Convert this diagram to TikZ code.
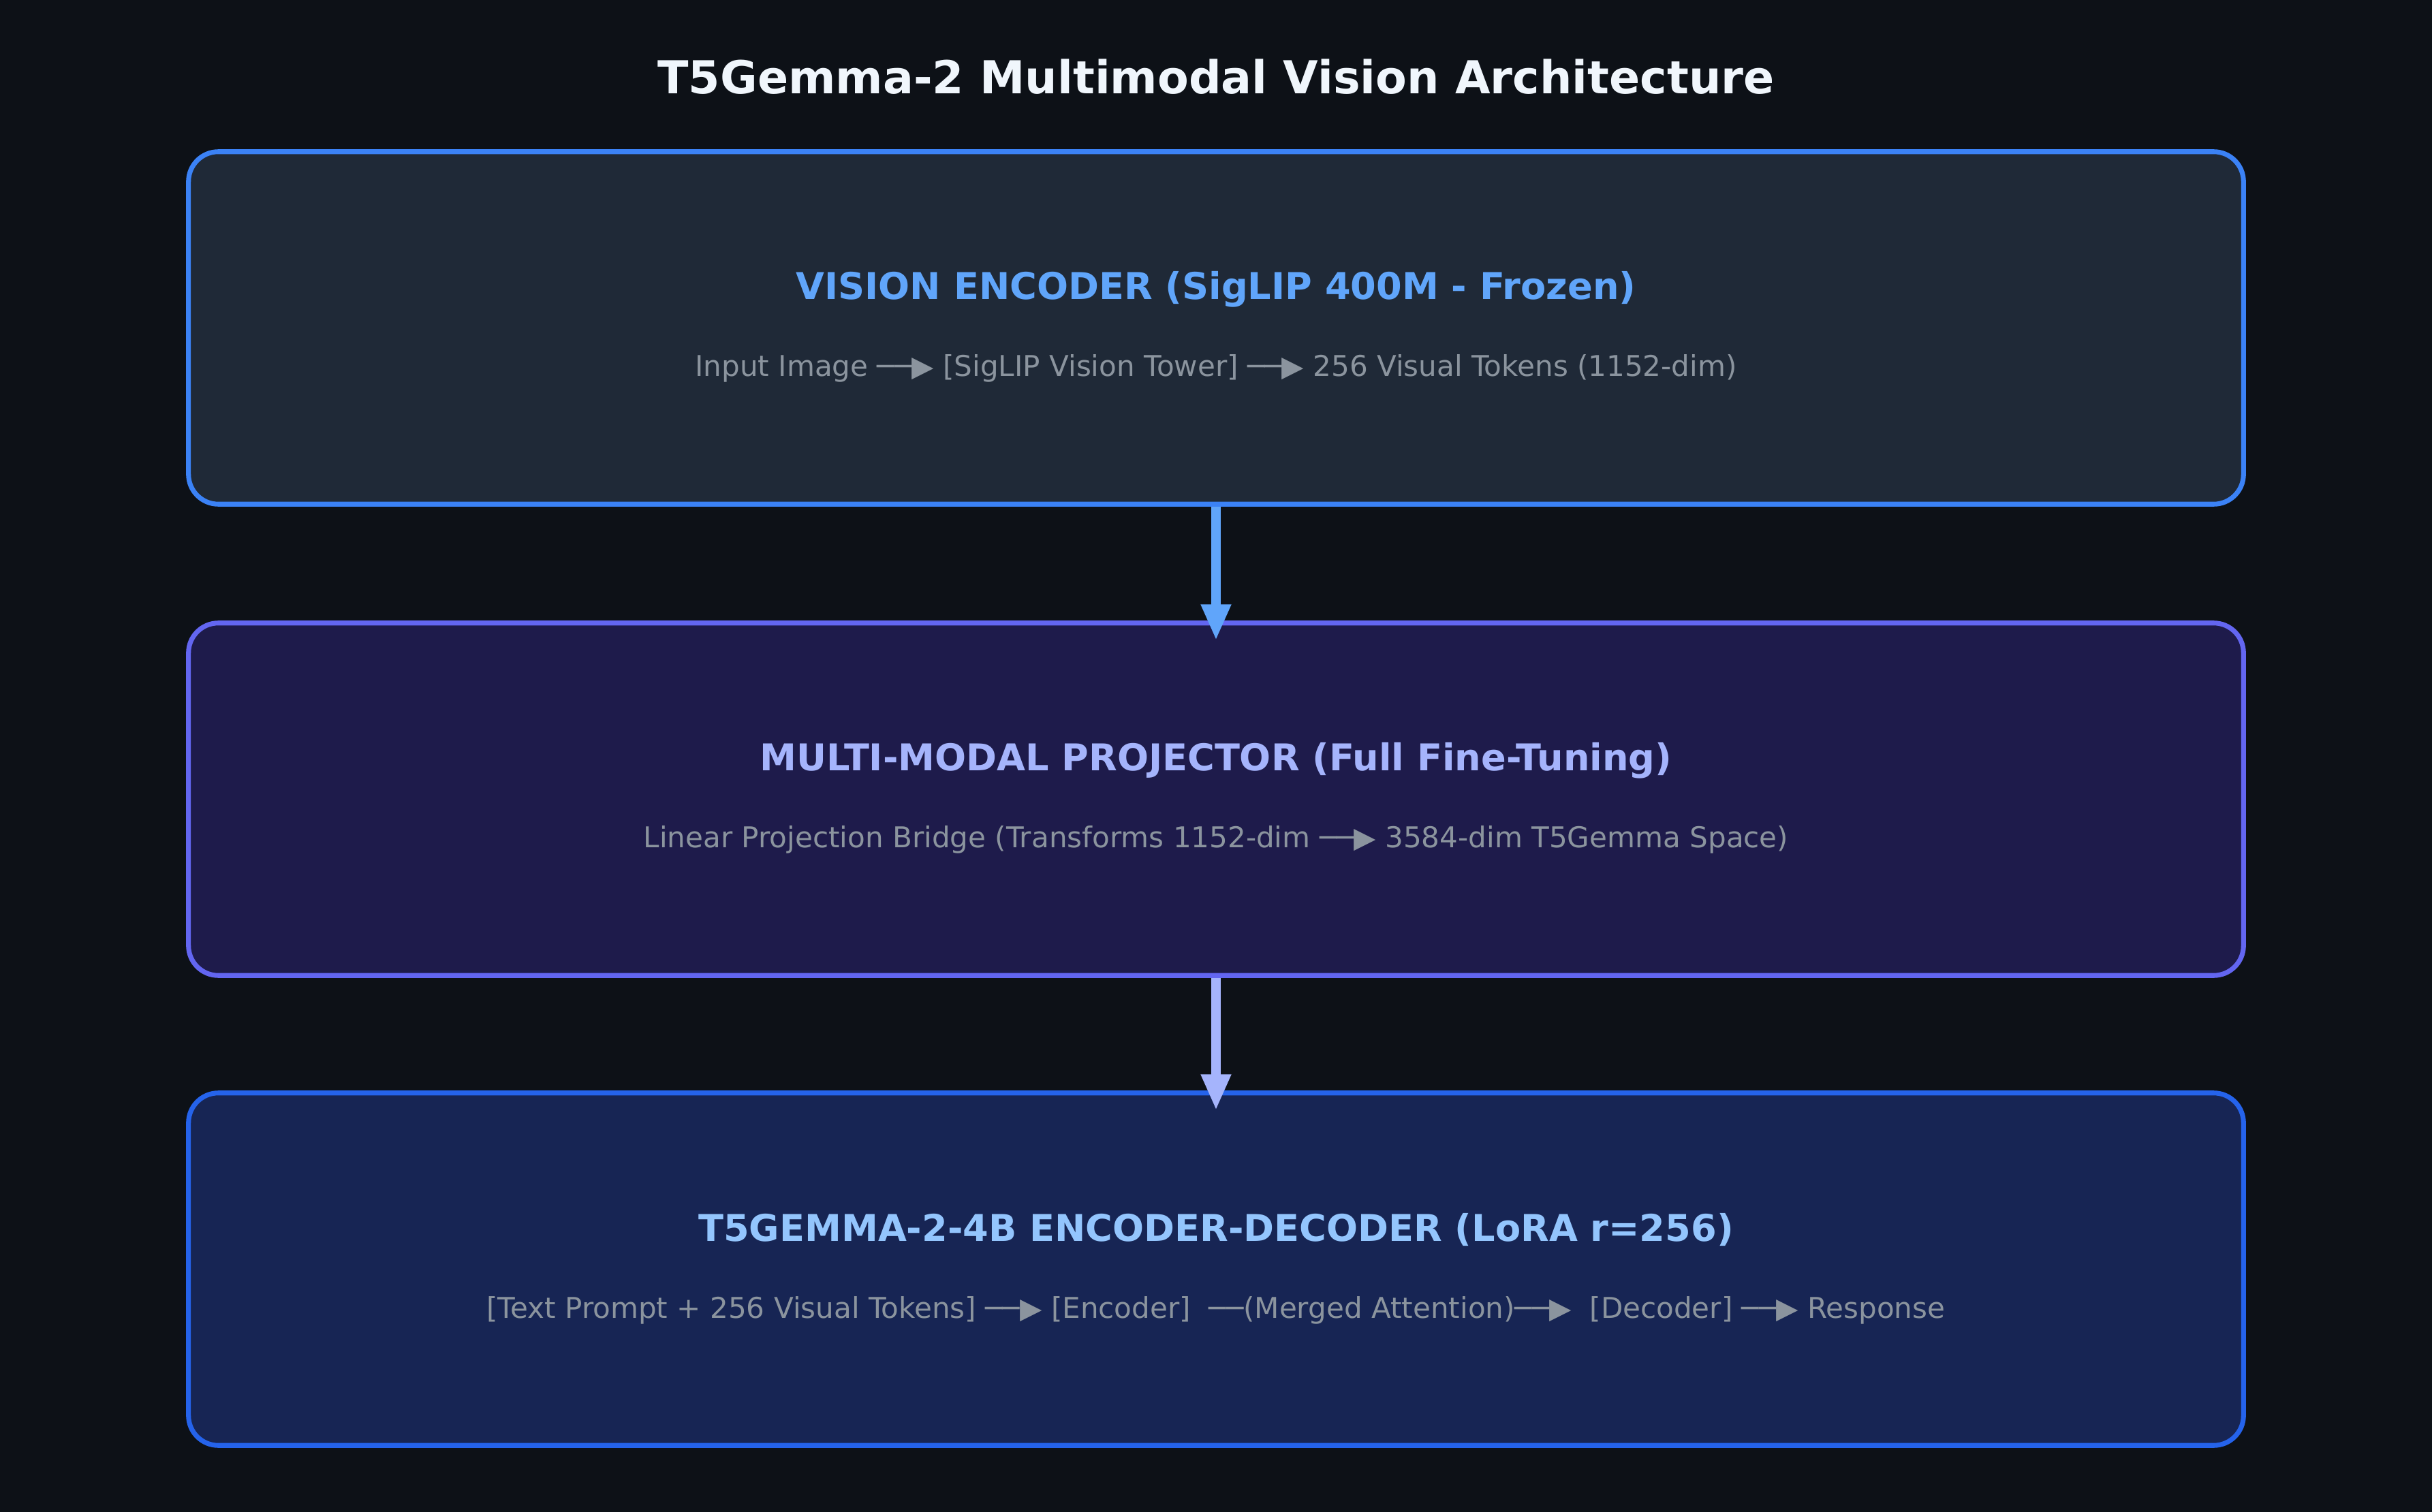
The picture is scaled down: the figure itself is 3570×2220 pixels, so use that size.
\documentclass[tikz,border=0pt]{standalone}
\usepackage{fontspec}
\setmainfont{DejaVu Sans}
\usetikzlibrary{arrows.meta,positioning}
\definecolor{background}{HTML}{0D1117}
\definecolor{titleColor}{HTML}{F0F6FC}
\definecolor{noteColor}{HTML}{8B949E}
\definecolor{encFill}{HTML}{1F2937}
\definecolor{encLine}{HTML}{3B82F6}
\definecolor{encHead}{HTML}{60A5FA}
\definecolor{projFill}{HTML}{1E1B4B}
\definecolor{projLine}{HTML}{6366F1}
\definecolor{projHead}{HTML}{A5B4FC}
\definecolor{lmFill}{HTML}{172554}
\definecolor{lmLine}{HTML}{2563EB}
\definecolor{lmHead}{HTML}{93C5FD}
\tikzset{
  stage/.style={draw, rounded corners=10.5pt, line width=1.7pt,
    minimum width=724pt, minimum height=124.2pt, inner sep=0pt},
  head/.style={anchor=base, inner sep=0pt, font=\fontsize{13}{16}\selectfont\bfseries},
  note/.style={anchor=base, inner sep=0pt, text=noteColor, font=\fontsize{10.1}{12}\selectfont},
  flow/.style={line width=3.5pt, -{Triangle[width=9.8pt,length=12.7pt]}, shorten >=-7pt}
}

\begin{document}
\begin{tikzpicture}[x=0.24pt,y=-0.24pt]
		\useasboundingbox[fill=background] (0,0) rectangle (3570,2220);
		\node[anchor=base, inner sep=0pt, text=titleColor, font=\fontsize{16}{19}\selectfont\bfseries] (title) at (1785,138) {T5Gemma-2 Multimodal Vision Architecture};
		\node[stage, fill=encFill, draw=encLine] (enc) at (1785,481.5) {};
		\node[stage, fill=projFill, draw=projLine] (proj) at (1785,1173.5) {};
		\node[stage, fill=lmFill, draw=lmLine] (lm) at (1785,1863.5) {};
		\node[head, text=encHead] (enchead) at (1785,440) {VISION ENCODER (SigLIP 400M - Frozen)};
		\node[note] (encnote) at (1785,553) {Input Image ──▶ [SigLIP Vision Tower] ──▶ 256 Visual Tokens (1152-dim)};
		\node[head, text=projHead] (projhead) at (1785,1131) {MULTI-MODAL PROJECTOR (Full Fine-Tuning)};
		\node[note] (projnote) at (1785,1244) {Linear Projection Bridge (Transforms 1152-dim ──▶ 3584-dim T5Gemma Space)};
		\node[head, text=lmHead] (lmhead) at (1785,1822) {T5GEMMA-2-4B ENCODER-DECODER (LoRA r=256)};
		\node[note] (lmnote) at (1785,1935) {[Text Prompt + 256 Visual Tokens] ──▶ [Encoder]\ \ ──(Merged Attention)──▶\ \ [Decoder] ──▶ Response};
		\draw [flow, encHead] (enc) -- (proj);
		\draw [flow, projHead] (proj) -- (lm);
\end{tikzpicture}
\end{document}
